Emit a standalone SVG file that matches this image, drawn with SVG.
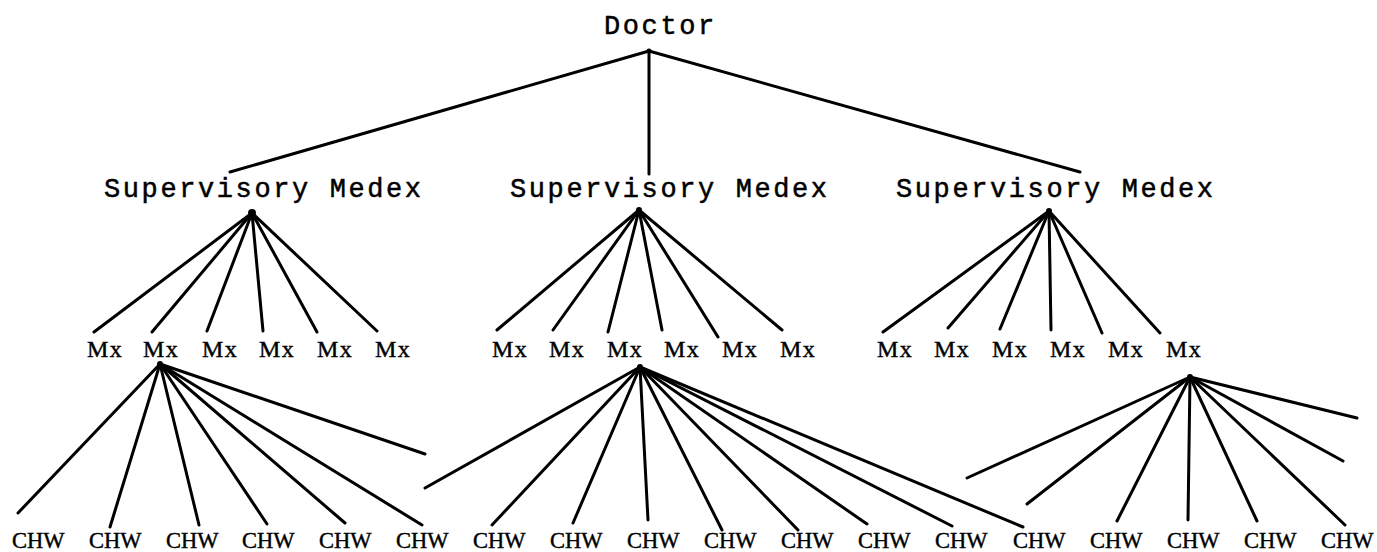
<svg xmlns="http://www.w3.org/2000/svg" width="1377" height="552" viewBox="0 0 1377 552">
<style>
.top{font-family:"Liberation Mono","DejaVu Sans Mono",monospace;font-size:27px;letter-spacing:2.6px;fill:#000;stroke:#000;stroke-width:0.5}
.mx{font-family:"Liberation Serif","DejaVu Serif",serif;font-size:24px;letter-spacing:1.5px;fill:#000;stroke:#000;stroke-width:0.4}
.chw{font-family:"Liberation Serif","DejaVu Serif",serif;font-size:22.5px;fill:#000;stroke:#000;stroke-width:0.4}
#connectors line{stroke:#000;stroke-width:3;stroke-linecap:round}
#connectors circle{fill:#000}
</style>
<rect width="1377" height="552" fill="#fff"/>
<g id="connectors">
<line x1="649" y1="51" x2="230" y2="172"/>
<line x1="649" y1="51" x2="649" y2="174"/>
<line x1="649" y1="51" x2="1080" y2="172"/>
<circle cx="649" cy="51" r="2.5"/>
<line x1="252" y1="213" x2="94" y2="332"/>
<line x1="252" y1="213" x2="152" y2="332"/>
<line x1="252" y1="213" x2="207" y2="331"/>
<line x1="252" y1="213" x2="263" y2="331"/>
<line x1="252" y1="213" x2="317" y2="332"/>
<line x1="252" y1="213" x2="377" y2="331"/>
<circle cx="252" cy="213" r="4"/>
<line x1="639" y1="210" x2="497" y2="330"/>
<line x1="639" y1="210" x2="553" y2="330"/>
<line x1="639" y1="210" x2="608" y2="332"/>
<line x1="639" y1="210" x2="662" y2="330"/>
<line x1="639" y1="210" x2="718" y2="337"/>
<line x1="639" y1="210" x2="782" y2="330"/>
<circle cx="639" cy="210" r="3"/>
<line x1="1049" y1="211" x2="883" y2="332"/>
<line x1="1049" y1="211" x2="948" y2="328"/>
<line x1="1049" y1="211" x2="1000" y2="329"/>
<line x1="1049" y1="211" x2="1051" y2="330"/>
<line x1="1049" y1="211" x2="1102" y2="333"/>
<line x1="1049" y1="211" x2="1160" y2="333"/>
<circle cx="1049" cy="211" r="3"/>
<line x1="160" y1="364" x2="18" y2="513"/>
<line x1="160" y1="364" x2="110" y2="527"/>
<line x1="160" y1="364" x2="199" y2="525"/>
<line x1="160" y1="364" x2="267" y2="524"/>
<line x1="160" y1="364" x2="345" y2="523"/>
<line x1="160" y1="364" x2="422" y2="525"/>
<line x1="160" y1="364" x2="425" y2="454"/>
<circle cx="160" cy="364" r="3"/>
<line x1="640" y1="367" x2="425" y2="488"/>
<line x1="640" y1="367" x2="492" y2="525"/>
<line x1="640" y1="367" x2="573" y2="523"/>
<line x1="640" y1="367" x2="648" y2="520"/>
<line x1="640" y1="367" x2="722" y2="530"/>
<line x1="640" y1="367" x2="798" y2="530"/>
<line x1="640" y1="367" x2="867" y2="524"/>
<line x1="640" y1="367" x2="952" y2="526"/>
<line x1="640" y1="367" x2="1023" y2="527"/>
<circle cx="640" cy="367" r="3"/>
<line x1="1190" y1="377" x2="967" y2="478"/>
<line x1="1190" y1="377" x2="1027" y2="504"/>
<line x1="1190" y1="377" x2="1117" y2="521"/>
<line x1="1190" y1="377" x2="1188" y2="520"/>
<line x1="1190" y1="377" x2="1257" y2="521"/>
<line x1="1190" y1="377" x2="1345" y2="525"/>
<line x1="1190" y1="377" x2="1343" y2="461"/>
<line x1="1190" y1="377" x2="1357" y2="418"/>
<circle cx="1190" cy="377" r="3"/>
</g>
<g id="doctor"><text class="top" x="604" y="34">Doctor</text></g>
<g id="sm1"><text class="top" x="104" y="197">Supervisory Medex</text></g>
<g id="sm2"><text class="top" x="510" y="197">Supervisory Medex</text></g>
<g id="sm3"><text class="top" x="896" y="197">Supervisory Medex</text></g>
<g id="mx1-1"><text class="mx" x="87" y="357">Mx</text></g>
<g id="mx1-2"><text class="mx" x="143" y="357">Mx</text></g>
<g id="mx1-3"><text class="mx" x="202" y="357">Mx</text></g>
<g id="mx1-4"><text class="mx" x="259" y="357">Mx</text></g>
<g id="mx1-5"><text class="mx" x="317" y="357">Mx</text></g>
<g id="mx1-6"><text class="mx" x="375" y="357">Mx</text></g>
<g id="mx2-1"><text class="mx" x="492" y="357">Mx</text></g>
<g id="mx2-2"><text class="mx" x="549" y="357">Mx</text></g>
<g id="mx2-3"><text class="mx" x="607" y="357">Mx</text></g>
<g id="mx2-4"><text class="mx" x="664" y="357">Mx</text></g>
<g id="mx2-5"><text class="mx" x="722" y="357">Mx</text></g>
<g id="mx2-6"><text class="mx" x="780" y="357">Mx</text></g>
<g id="mx3-1"><text class="mx" x="877" y="357">Mx</text></g>
<g id="mx3-2"><text class="mx" x="934" y="357">Mx</text></g>
<g id="mx3-3"><text class="mx" x="992" y="357">Mx</text></g>
<g id="mx3-4"><text class="mx" x="1050" y="357">Mx</text></g>
<g id="mx3-5"><text class="mx" x="1108" y="357">Mx</text></g>
<g id="mx3-6"><text class="mx" x="1166" y="357">Mx</text></g>
<g id="chw1"><text class="chw" x="12" y="548">CHW</text></g>
<g id="chw2"><text class="chw" x="89" y="548">CHW</text></g>
<g id="chw3"><text class="chw" x="166" y="548">CHW</text></g>
<g id="chw4"><text class="chw" x="242" y="548">CHW</text></g>
<g id="chw5"><text class="chw" x="319" y="548">CHW</text></g>
<g id="chw6"><text class="chw" x="396" y="548">CHW</text></g>
<g id="chw7"><text class="chw" x="473" y="548">CHW</text></g>
<g id="chw8"><text class="chw" x="550" y="548">CHW</text></g>
<g id="chw9"><text class="chw" x="627" y="548">CHW</text></g>
<g id="chw10"><text class="chw" x="704" y="548">CHW</text></g>
<g id="chw11"><text class="chw" x="781" y="548">CHW</text></g>
<g id="chw12"><text class="chw" x="858" y="548">CHW</text></g>
<g id="chw13"><text class="chw" x="935" y="548">CHW</text></g>
<g id="chw14"><text class="chw" x="1013" y="548">CHW</text></g>
<g id="chw15"><text class="chw" x="1090" y="548">CHW</text></g>
<g id="chw16"><text class="chw" x="1167" y="548">CHW</text></g>
<g id="chw17"><text class="chw" x="1244" y="548">CHW</text></g>
<g id="chw18"><text class="chw" x="1321" y="548">CHW</text></g>
</svg>
